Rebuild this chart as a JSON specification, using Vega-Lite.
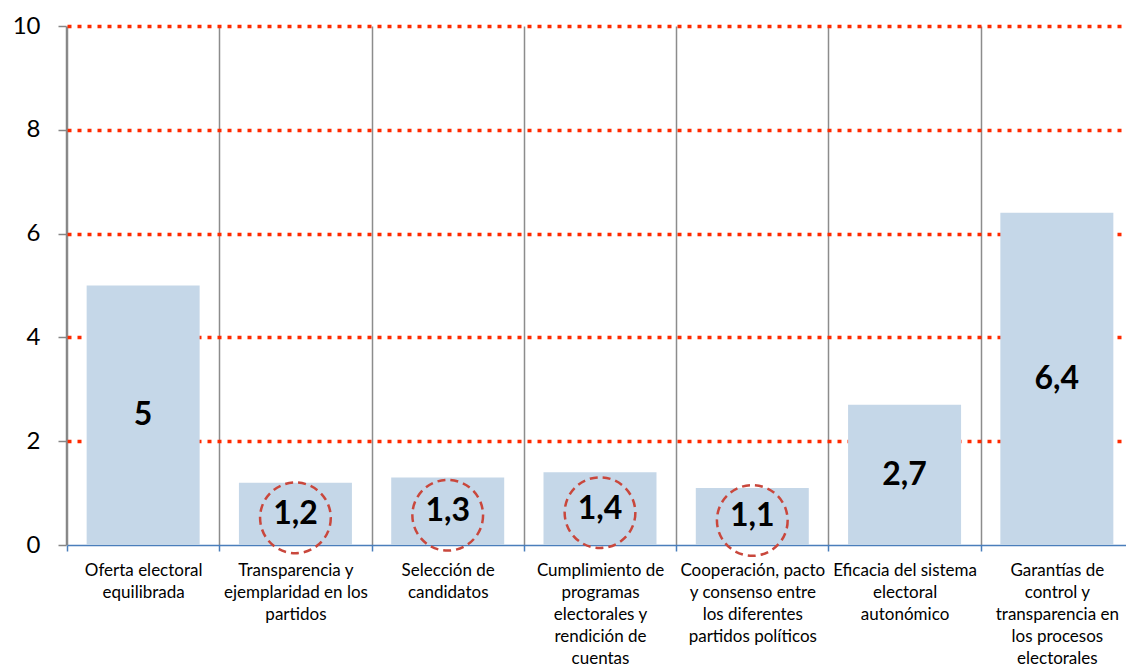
{
  "$schema": "https://vega.github.io/schema/vega-lite/v6.json",
  "width": 1060,
  "height": 519,
  "autosize": {"type": "none"},
  "padding": {"left": 66, "top": 26, "right": 0, "bottom": 123},
  "background": "white",
  "config": {
    "view": {"stroke": null},
    "font": "Lato",
    "locale": {"number": {"decimal": ",", "thousands": ".", "grouping": [3], "currency": ["", " €"]}}
  },
  "data": {
    "values": [
      {"tema": "Oferta electoral|equilibrada", "valor": 5},
      {"tema": "Transparencia y|ejemplaridad en los|partidos", "valor": 1.2},
      {"tema": "Selección de|candidatos", "valor": 1.3},
      {"tema": "Cumplimiento de|programas|electorales y|rendición de|cuentas", "valor": 1.4},
      {"tema": "Cooperación, pacto|y consenso entre|los diferentes|partidos políticos", "valor": 1.1},
      {"tema": "Eficacia del sistema|electoral|autonómico", "valor": 2.7},
      {"tema": "Garantías de|control y|transparencia en|los  procesos|electorales", "valor": 6.4}
    ]
  },
  "encoding": {
    "x": {
      "field": "tema",
      "type": "nominal",
      "sort": null,
      "scale": {"range": [1, 1067], "paddingInner": 0, "paddingOuter": 0},
      "axis": {
        "title": null,
        "tickBand": "extent",
        "grid": true,
        "gridColor": "#8c8c8c",
        "gridWidth": 1.5,
        "domainColor": "#4a7ebb",
        "domainWidth": 1.5,
        "tickColor": "#4a7ebb",
        "tickSize": 6,
        "tickWidth": 1.5,
        "labelAngle": 0,
        "labelFont": "Lato",
        "labelFontSize": 17,
        "labelLineHeight": 22,
        "labelPadding": 11,
        "labelColor": "black",
        "labelLimit": 0,
        "labelExpr": "split(datum.label, '|')"
      }
    }
  },
  "layer": [
    {
      "mark": {"type": "bar", "color": "#c5d7e8", "width": {"band": 0.742}},
      "encoding": {
        "y": {
          "field": "valor",
          "type": "quantitative",
          "scale": {"domain": [0, 10], "nice": false},
          "axis": {
            "title": null,
            "values": [0, 2, 4, 6, 8, 10],
            "grid": true,
            "gridColor": {"condition": {"test": "datum.value === 0", "value": "transparent"}, "value": "#ff2a00"},
            "gridWidth": 3.5,
            "gridDash": [4, 6],
            "domainColor": "#868686",
            "domainWidth": 1.5,
            "tickColor": "#868686",
            "tickSize": 8,
            "tickWidth": 1.5,
            "labelFont": "Lato",
            "labelFontSize": 24,
            "labelColor": "black",
            "labelPadding": 18
          }
        }
      }
    },
    {
      "mark": {"type": "text", "font": "Lato", "fontSize": 32, "fontWeight": "bold", "color": "black", "baseline": "middle"},
      "encoding": {
        "y": {"field": "valor", "type": "quantitative", "scale": {"domain": [0, 20], "nice": false}, "axis": null},
        "text": {"field": "valor", "type": "quantitative", "format": "~g"}
      }
    },
    {
      "transform": [{"filter": "datum.valor < 2"}],
      "mark": {"type": "point", "shape": "circle", "size": 5000, "filled": false, "stroke": "#c9473c", "strokeWidth": 2.5, "strokeDash": [8, 5], "opacity": 1, "yOffset": 4},
      "encoding": {
        "y": {"field": "valor", "type": "quantitative", "scale": {"domain": [0, 20], "nice": false}, "axis": null}
      }
    }
  ],
  "resolve": {"scale": {"y": "independent"}}
}
